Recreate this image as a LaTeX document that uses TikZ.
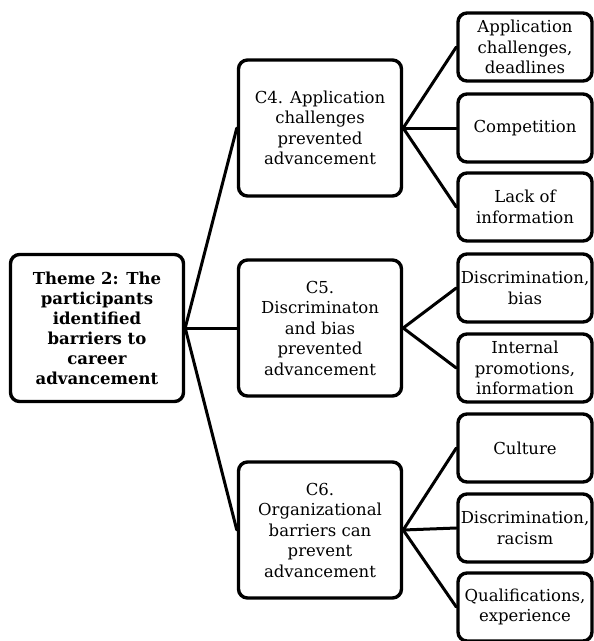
\documentclass[tikz,border=0pt]{standalone}
\usepackage{fontspec}
\setmainfont{DejaVu Serif}
\usetikzlibrary{calc}

\tikzset{
  box/.style={draw, line width=3.4pt, rounded corners=9pt, align=center,
    inner sep=0pt, font=\fontsize{16.5}{20.5}\selectfont},
  themebox/.style={box, minimum width=173pt, minimum height=147pt,
    font=\bfseries\fontsize{16.5}{20}\selectfont},
  catbox/.style={box, minimum width=163pt, minimum height=136pt},
  leafbox/.style={box, minimum width=134pt, minimum height=68pt},
  link/.style={line width=3pt}
}

\begin{document}
\begin{tikzpicture}[x=1pt, y=-1pt, line join=round, line cap=round]
        \useasboundingbox (0,0) rectangle (594,641);

        % theme and categories
        \node[themebox] (T) at (97,328) {Theme 2: The\\participants\\identified\\barriers to\\career\\advancement};
        \node[catbox] (C4) at (320,128) {C4. Application\\challenges\\prevented\\advancement};
        \node[catbox] (C5) at (320,328) {C5.\\Discriminaton\\and bias\\prevented\\advancement};
        \node[catbox] (C6) at (320,530) {C6.\\Organizational\\barriers can\\prevent\\advancement};

        % codes
        \node[leafbox] (L1) at (525,47) {Application\\challenges,\\deadlines};
        \node[leafbox] (L2) at (525,128) {Competition};
        \node[leafbox] (L3) at (525,207) {Lack of\\information};
        \node[leafbox] (L4) at (525,288) {Discrimination,\\bias};
        \node[leafbox] (L5) at (525,368) {Internal\\promotions,\\information};
        \node[leafbox] (L6) at (525,448) {Culture};
        \node[leafbox] (L7) at (525,528) {Discrimination,\\racism};
        \node[leafbox] (L8) at (525,607) {Qualifications,\\experience};

        \foreach \i in {C4,C5,C6}
        \draw[link] (T.east)--(\i.west);
        \foreach \i in {L1,L2,L3}
        \draw[link] (C4.east)--(\i.west);
        \foreach \i in {L4,L5}
        \draw[link] (C5.east)--(\i.west);
        \foreach \i in {L6,L7,L8}
        \draw[link] (C6.east)--(\i.west);
\end{tikzpicture}
\end{document}
